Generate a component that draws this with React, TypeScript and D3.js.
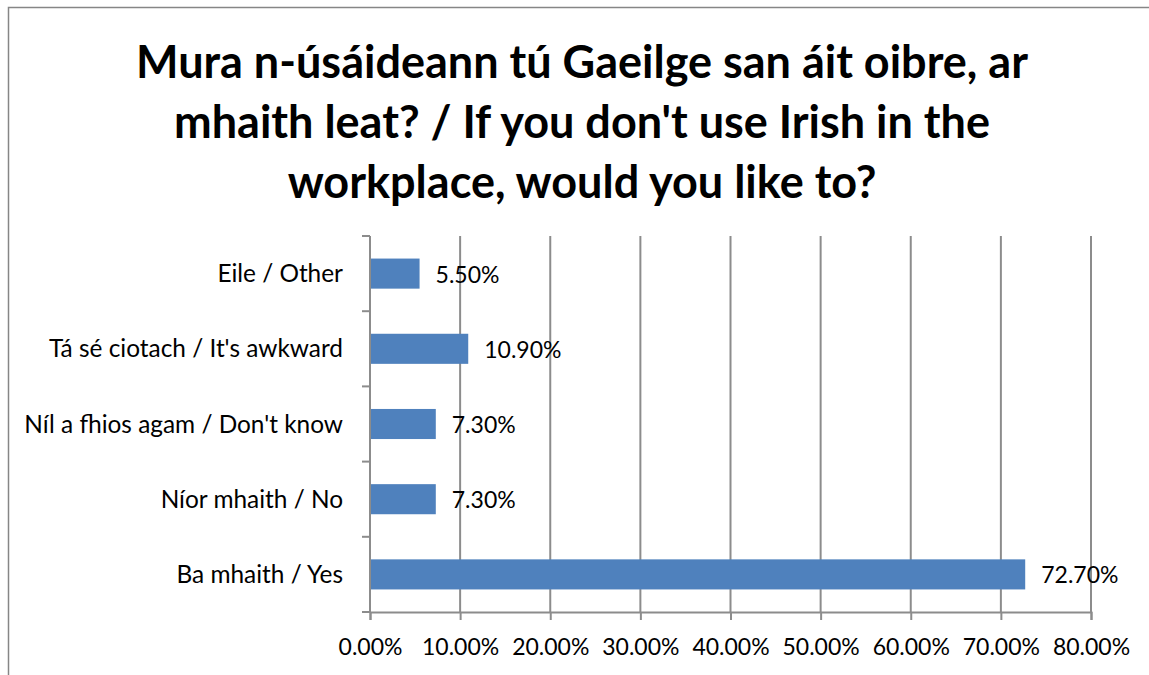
import React, { useEffect, useRef } from "react";
import * as d3 from "d3";

const titleLines = [
  "Mura n-úsáideann tú Gaeilge san áit oibre, ar",
  "mhaith leat? / If you don't use Irish in the",
  "workplace, would you like to?",
];

const categories = [
  "Eile / Other",
  "Tá sé ciotach / It's awkward",
  "Níl a fhios agam / Don't know",
  "Níor mhaith / No",
  "Ba mhaith / Yes",
];

const values = [5.5, 10.9, 7.3, 7.3, 72.7];

const xTicks = [0, 10, 20, 30, 40, 50, 60, 70, 80];

const FONT = "Lato, 'Open Sans', sans-serif";
const GRID = "#8c8c8c";

const App = () => {
  const svgRef = useRef<SVGSVGElement>(null);

  useEffect(() => {
    const svg = d3.select(svgRef.current);
    svg.selectAll("*").remove();

    const width = 1149;
    const height = 675;
    const plot = { left: 370, right: 1091, top: 236, bottom: 612 };

    // chart border (only top and left visible in the shot)
    svg
      .append("rect")
      .attr("x", 8.5)
      .attr("y", 7.5)
      .attr("width", width + 10)
      .attr("height", height + 10)
      .attr("fill", "#fff")
      .attr("stroke", "#868686")
      .attr("stroke-width", 1.5);

    // title
    svg
      .append("g")
      .selectAll("text")
      .data(titleLines)
      .join("text")
      .attr("x", 582)
      .attr("y", (d, i) => 78 + i * 60)
      .attr("text-anchor", "middle")
      .attr("font-family", FONT)
      .attr("font-weight", "bold")
      .attr("font-size", 45)
      .attr("fill", "#000")
      .text((d) => d);

    const x = d3.scaleLinear().domain([0, 80]).range([plot.left, plot.right]);

    const y = d3
      .scaleBand()
      .domain(categories)
      .range([plot.top, plot.bottom])
      .paddingInner(0.6)
      .paddingOuter(0.3);

    const g = svg.append("g");

    // vertical gridlines
    g.selectAll(".grid")
      .data(xTicks.slice(1))
      .join("line")
      .attr("class", "grid")
      .attr("x1", (d) => x(d))
      .attr("x2", (d) => x(d))
      .attr("y1", plot.top)
      .attr("y2", plot.bottom)
      .attr("stroke", GRID)
      .attr("stroke-width", 2);

    // x axis
    const xAxis = g
      .append("g")
      .attr("transform", `translate(0, ${plot.bottom})`)
      .call(
        d3
          .axisBottom(x)
          .tickValues(xTicks)
          .tickSize(8)
          .tickPadding(19)
          .tickFormat((d) => `${(+d).toFixed(2)}%`)
      );
    xAxis.select(".domain").attr("stroke", GRID).attr("stroke-width", 2);
    xAxis.selectAll(".tick line").attr("stroke", GRID).attr("stroke-width", 2);
    xAxis
      .selectAll(".tick text")
      .attr("font-family", FONT)
      .attr("font-size", 23)
      .attr("fill", "#000");

    // y axis: ticks sit on category boundaries
    const boundaries = categories.map((c) => y(c)! - (y.step() * y.paddingInner()) / 2);
    boundaries.push(plot.bottom);
    g.append("line")
      .attr("x1", plot.left)
      .attr("x2", plot.left)
      .attr("y1", plot.top)
      .attr("y2", plot.bottom)
      .attr("stroke", GRID)
      .attr("stroke-width", 2);
    g.selectAll(".ytick")
      .data(boundaries)
      .join("line")
      .attr("class", "ytick")
      .attr("x1", plot.left - 8)
      .attr("x2", plot.left)
      .attr("y1", (d) => d)
      .attr("y2", (d) => d)
      .attr("stroke", GRID)
      .attr("stroke-width", 2);

    g.selectAll(".ylabel")
      .data(categories)
      .join("text")
      .attr("class", "ylabel")
      .attr("x", plot.left - 27)
      .attr("y", (d) => y(d)! + y.bandwidth() / 2 + 8.5)
      .attr("text-anchor", "end")
      .attr("font-family", FONT)
      .attr("font-size", 24.4)
      .attr("fill", "#000")
      .text((d) => d);

    // bars
    g.selectAll(".bar")
      .data(values)
      .join("rect")
      .attr("class", "bar")
      .attr("x", plot.left + 1)
      .attr("y", (d, i) => y(categories[i])!)
      .attr("width", (d) => x(d) - plot.left - 1)
      .attr("height", y.bandwidth())
      .attr("fill", "#4f81bd");

    // value labels
    g.selectAll(".val")
      .data(values)
      .join("text")
      .attr("class", "val")
      .attr("x", (d) => x(d) + 16)
      .attr("y", (d, i) => y(categories[i])! + y.bandwidth() / 2 + 9)
      .attr("font-family", FONT)
      .attr("font-size", 23)
      .attr("fill", "#000")
      .text((d) => `${d.toFixed(2)}%`);
  }, []);

  return (
    <svg
      ref={svgRef}
      width={1149}
      height={675}
      style={{ position: "absolute", left: 0, top: 0, background: "#fff" }}
    ></svg>
  );
};

export default App;
